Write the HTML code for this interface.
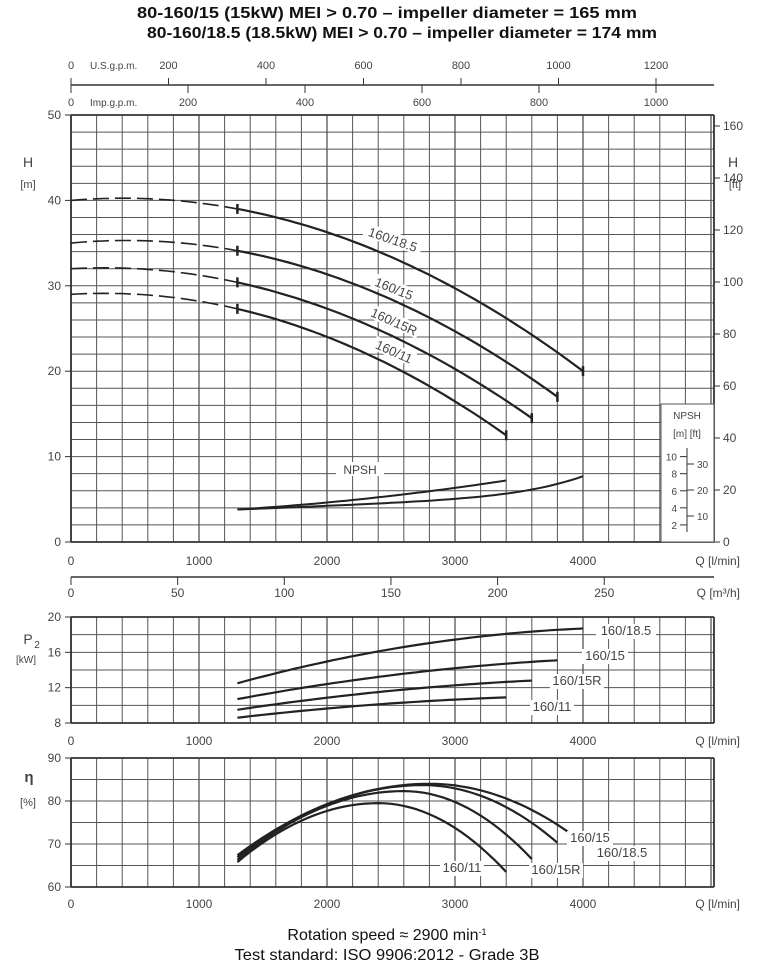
<!DOCTYPE html>
<html><head><meta charset="utf-8"><style>
body{margin:0;background:#fff;width:775px;height:970px;overflow:hidden}
svg{display:block}
text{font-family:"Liberation Sans",sans-serif;fill:#444}
</style></head><body>
<svg id="s" width="775" height="970" xmlns="http://www.w3.org/2000/svg"></svg>
<script>
var s=document.getElementById('s'),o='';
function L(x1,y1,x2,y2,w,c,d){o+='<line x1="'+x1+'" y1="'+y1+'" x2="'+x2+'" y2="'+y2+'" stroke="'+(c||'#333')+'" stroke-width="'+(w||1)+'"'+(d?' stroke-dasharray="'+d+'"':'')+'/>';}
function T(x,y,t,sz,a,ex){o+='<text x="'+x+'" y="'+y+'" font-size="'+(sz||11)+'" text-anchor="'+(a||'middle')+'" '+(ex||'')+'>'+t+'</text>';}
var X0=71,XR=714,KX=0.128;function qx(q){return X0+q*KX;}
T(387,18,'80-160/15 (15kW) MEI &gt; 0.70 – impeller diameter = 165 mm',16,'middle','font-weight="bold" style="fill:#111" textLength="500" lengthAdjust="spacingAndGlyphs"');
T(402,38,'80-160/18.5 (18.5kW) MEI &gt; 0.70 – impeller diameter = 174 mm',16,'middle','font-weight="bold" style="fill:#111" textLength="510" lengthAdjust="spacingAndGlyphs"');
L(X0,85,XR,85,1.5);
for(var g=0;g<=1200;g+=200){var x=X0+g*0.4875;L(x,78,x,85);T(x,69,g,11);}
T(90,69,'U.S.g.p.m.',10,'start');
for(var g=0;g<=1000;g+=200){var x=X0+g*0.585;L(x,85,x,93);T(x,106,g,11);}
T(90,106,'Imp.g.p.m.',10,'start');
function grid(yt,yb,nh){
 for(var q=0;q<=5020;q+=200){var x=qx(q);if(x>XR)break;L(x,yt,x,yb,q%1000==0?1.3:1,'#555');}
 for(var i=0;i<=nh;i++){var y=yt+(yb-yt)*i/nh;L(X0,y,XR,y,1,'#555');}
 L(X0,yt,XR,yt,1.8);L(X0,yb,XR,yb,1.8);L(X0,yt,X0,yb,1.8);L(XR,yt,XR,yb,1.8);
}
var HY0=542,KH=8.54;function hy(h){return HY0-h*KH;}
grid(115,542,25);
for(var h=0;h<=50;h+=10){L(65,hy(h),X0,hy(h));T(61,hy(h)+4,h,12,'end');}
T(28,167,'H',14);T(28,188,'[m]',11);
for(var f=0;f<=160;f+=20){var y=542-f*2.6;L(XR,y,XR+6,y);T(723,y+4,f,12,'start');}
T(733,167,'H',14);T(735,188,'[ft]',11);
for(var q=0;q<=4000;q+=1000)T(qx(q),565,q,12);
T(740,565,'Q [l/min]',12,'end');
o+='<rect x="661" y="404" width="53" height="138" fill="#fff" stroke="#555"/>';
T(687,419,'NPSH',10);T(687,437,'[m]  [ft]',10);
L(687,448,687,532);
for(var m=2;m<=10;m+=2){var y=hy(m);L(680,y,687,y);T(677,y+4,m,10,'end');}
for(var f=10;f<=30;f+=10){var y=542-f*2.6;L(687,y,694,y);T(697,y+4,f,10,'start');}
L(X0,577,XR,577,1.5);
for(var m=0;m<=250;m+=50){var x=X0+m*2.133;L(x,577,x,585);T(x,597,m,12);}
T(740,597,'Q [m³/h]',12,'end');
var HC=[[40,1.27,-1.567,4000],[35,1.411,-1.618,3800],[32,0.82,-1.578,3600],[29,0.886,-1.688,3400]];
HC.forEach(function(c){
 function H(q){var Q=q/1000;return c[0]+c[1]*Q+c[2]*Q*Q;}
 var d='M',e='M';
 for(var q=0;q<=1300;q+=50)d+=qx(q).toFixed(1)+','+hy(H(q)).toFixed(1)+' ';
 for(var q=1300;q<=c[3];q+=50)e+=qx(q).toFixed(1)+','+hy(H(q)).toFixed(1)+' ';
 o+='<path d="'+d+'" fill="none" stroke="#222" stroke-width="1.6" stroke-dasharray="16,6"/>';
 o+='<path d="'+e+'" fill="none" stroke="#222" stroke-width="2.2"/>';
 L(qx(1300),hy(H(1300))-5,qx(1300),hy(H(1300))+5,2.5,'#222');
 L(qx(c[3]),hy(H(c[3]))-5,qx(c[3]),hy(H(c[3]))+5,2.5,'#222');
});
function lab(x,y,t,r,w){o+='<g transform="translate('+x+','+y+') rotate('+r+')"><rect x="-'+(w/2)+'" y="-10" width="'+w+'" height="14" fill="#fff"/><text x="0" y="2" font-size="13" text-anchor="middle">'+t+'</text></g>';}
lab(392,242,'160/18.5',19,60);lab(393,291,'160/15',22,46);lab(393,324,'160/15R',24,54);lab(393,354,'160/11',24,44);
function pth(pts,fx,fy,w){var d='M';pts.forEach(function(p){d+=fx(p[0]).toFixed(1)+','+fy(p[1]).toFixed(1)+' ';});o+='<path d="'+d+'" fill="none" stroke="#222" stroke-width="'+(w||2.2)+'"/>';}
function curve(q0,q1,f){var r=[];for(var q=q0;q<=q1+1;q+=50)r.push([q,f(q)]);return r;}
pth(curve(1300,3400,function(q){var t=(q-1300)/2100;return 3.8+2.0*t+1.4*t*t;}),qx,hy,2);
pth(curve(1300,4000,function(q){var t=(q-1300)/2700;return 3.8+1.6*t+0.3*t*t+2.0*Math.pow(t,6);}),qx,hy,2);
o+='<rect x="336" y="462" width="48" height="14" fill="#fff"/>';T(360,474,'NPSH',12);
var PT=617,PB=723;function py(p){return PB-(p-8)*(PB-PT)/12;}
grid(PT,PB,6);
for(var p=8;p<=20;p+=4){L(65,py(p),X0,py(p));T(61,py(p)+4,p,12,'end');}
T(28,644,'P',14);T(37,648,'2',10);T(26,663,'[kW]',10);
for(var q=0;q<=4000;q+=1000)T(qx(q),745,q,12);T(740,745,'Q [l/min]',12,'end');
function q3(q0,p0,q1,p1,q2,p2){return function(q){var a=(q-q1)*(q-q2)/((q0-q1)*(q0-q2)),b=(q-q0)*(q-q2)/((q1-q0)*(q1-q2)),c=(q-q0)*(q-q1)/((q2-q0)*(q2-q1));return p0*a+p1*b+p2*c;};}
pth(curve(1300,4000,q3(1300,12.5,2600,16.6,4000,18.7)),qx,py);
pth(curve(1300,3800,q3(1300,10.7,2500,13.4,3800,15.1)),qx,py);
pth(curve(1300,3600,q3(1300,9.5,2400,11.5,3600,12.8)),qx,py);
pth(curve(1300,3400,q3(1300,8.6,2300,10.0,3400,10.9)),qx,py);
function lb(x,y,t,w){o+='<rect x="'+(x-w/2)+'" y="'+(y-11)+'" width="'+w+'" height="15" fill="#fff"/>';T(x,y,t,13);}
lb(626,635,'160/18.5',60);lb(605,660,'160/15',46);lb(577,685,'160/15R',54);lb(552,711,'160/11',44);
var ET=758,EB=887;function ey(e){return EB-(e-60)*(EB-ET)/30;}
grid(ET,EB,6);
for(var e=60;e<=90;e+=10){L(65,ey(e),X0,ey(e));T(61,ey(e)+4,e,12,'end');}
T(29,782,'η',15,'middle','font-weight="bold"');T(28,806,'[%]',11);
for(var q=0;q<=4000;q+=1000)T(qx(q),908,q,12);T(740,908,'Q [l/min]',12,'end');
function eta(s,pk,qp,en,qe){return function(q){var Q=q/1000,P=qp/1000;if(q<qp){var k=(pk-s)/Math.pow(P-1.3,2);return pk-k*Math.pow(Q-P,2);}var k2=(pk-en)/Math.pow(qe/1000-P,2);return pk-k2*Math.pow(Q-P,2);};}
pth(curve(1300,3400,eta(65.8,79.5,2400,63.5,3400)),qx,ey);
pth(curve(1300,3600,eta(66.3,82.3,2600,66.5,3600)),qx,ey);
pth(curve(1300,3800,eta(66.9,83.7,2750,70.3,3800)),qx,ey);
pth(curve(1300,4000,eta(67.4,84.0,2800,70.3,4000)),qx,ey);
lb(590,842,'160/15',46);lb(622,857,'160/18.5',60);lb(556,874,'160/15R',54);lb(462,872,'160/11',44);
T(387,940,'Rotation speed ≈ 2900 min<tspan font-size="9" dy="-5">-1</tspan>',16,'middle','style="fill:#111"');
T(387,960,'Test standard: ISO 9906:2012 - Grade 3B',16,'middle','style="fill:#111" textLength="305" lengthAdjust="spacingAndGlyphs"');
s.innerHTML=o;
</script>
</body></html>
